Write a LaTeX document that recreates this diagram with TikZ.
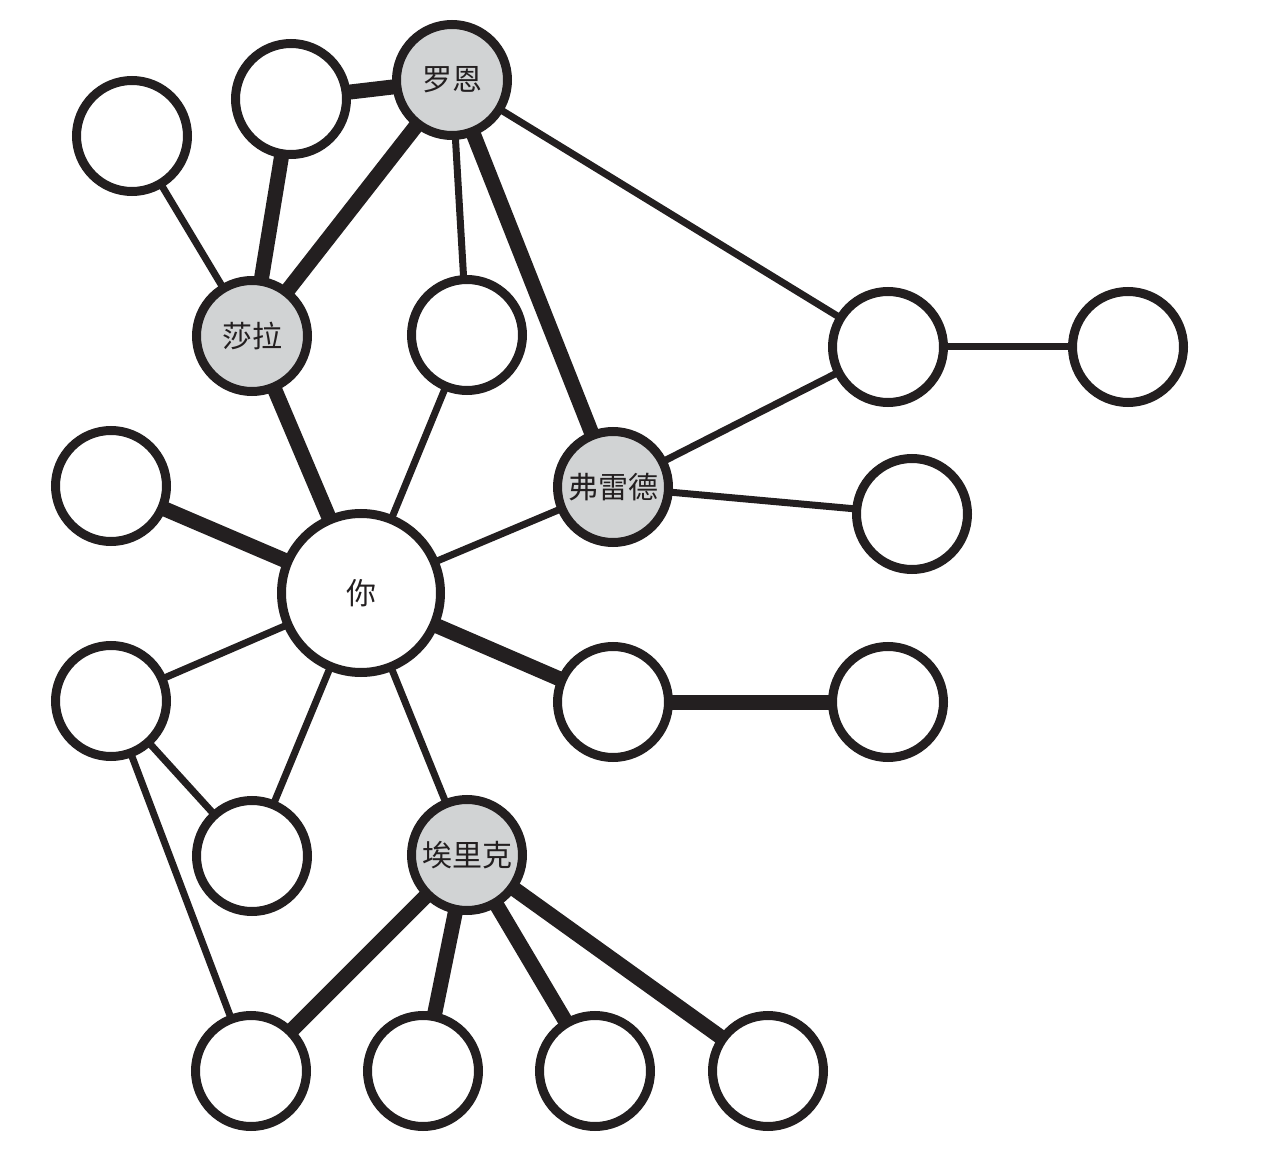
\documentclass[tikz,border=0pt]{standalone}
\usepackage{fontspec}
\newfontfamily\cjk{Noto Sans CJK SC}
\usetikzlibrary{backgrounds}
\definecolor{ink}{RGB}{35,31,32}
\definecolor{shade}{RGB}{209,211,212}
\begin{document}
\begin{tikzpicture}[x=1pt,y=-1pt,
  person/.style={circle, draw=ink, line width=9pt, fill=white, minimum size=111pt,
    inner sep=0pt, outer sep=0pt, font=\cjk\fontsize{30}{36}\selectfont, text=ink},
  named/.style={person, fill=shade},
  weaktie/.style={draw=ink, line width=7pt},
  strongtie/.style={draw=ink, line width=15pt}]
\useasboundingbox (0,0) rectangle (1270,1158);
\node[person] (a) at (132,136) {};
\node[person] (b) at (291,99) {};
\node[named] (ron) at (452,80) {罗恩};
\node[named] (sarah) at (252,336) {莎拉};
\node[person] (c) at (467,335) {};
\node[person] (d) at (888,347) {};
\node[person] (e) at (1128,347) {};
\node[named] (fred) at (613,487) {弗雷德};
\node[person] (f) at (912,514) {};
\node[person] (g) at (111,486) {};
\node[person, minimum size=159pt] (you) at (361,593) {你};
\node[person] (h) at (111,701) {};
\node[person] (i) at (613,702) {};
\node[person] (j) at (888,702) {};
\node[person] (k) at (252,856) {};
\node[named] (eric) at (467,855) {埃里克};
\node[person] (l) at (251,1071) {};
\node[person] (m) at (423,1071) {};
\node[person] (n) at (595,1071) {};
\node[person] (o) at (768,1071) {};
\begin{pgfonlayer}{background}
\draw[weaktie] (a.center) -- (sarah.center);
\draw[strongtie] (b.center) -- (ron.center);
\draw[strongtie] (b.center) -- (sarah.center);
\draw[strongtie] (ron.center) -- (sarah.center);
\draw[weaktie] (ron.center) -- (c.center);
\draw[strongtie] (ron.center) -- (fred.center);
\draw[weaktie] (ron.center) -- (d.center);
\draw[weaktie] (d.center) -- (e.center);
\draw[weaktie] (d.center) -- (fred.center);
\draw[weaktie] (fred.center) -- (f.center);
\draw[weaktie] (fred.center) -- (you.center);
\draw[strongtie] (sarah.center) -- (you.center);
\draw[weaktie] (c.center) -- (you.center);
\draw[strongtie] (g.center) -- (you.center);
\draw[weaktie] (h.center) -- (you.center);
\draw[weaktie] (k.center) -- (you.center);
\draw[weaktie] (h.center) -- (k.center);
\draw[weaktie] (h.center) -- (l.center);
\draw[strongtie] (you.center) -- (i.center);
\draw[strongtie] (i.center) -- (j.center);
\draw[weaktie] (you.center) -- (eric.center);
\draw[strongtie] (eric.center) -- (l.center);
\draw[strongtie] (eric.center) -- (m.center);
\draw[strongtie] (eric.center) -- (n.center);
\draw[strongtie] (eric.center) -- (o.center);
\end{pgfonlayer}
\end{tikzpicture}
\end{document}
